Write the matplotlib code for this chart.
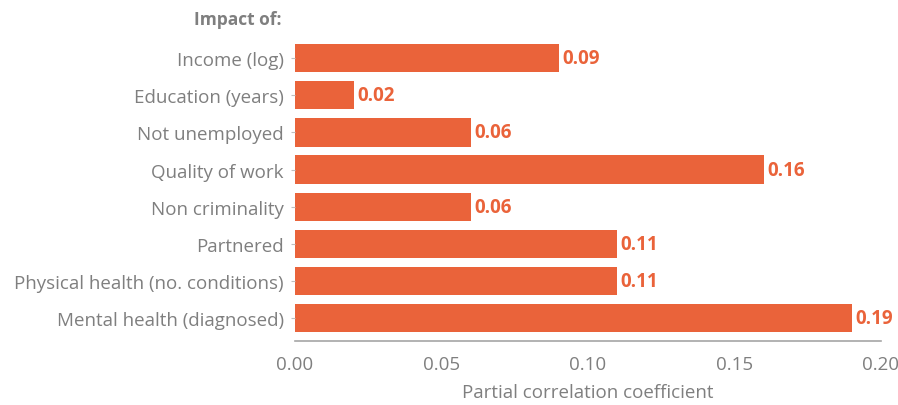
import matplotlib.pyplot as plt

plt.rcParams['font.family'] = ['Open Sans', 'DejaVu Sans']

categories = ['Income (log)', 'Education (years)', 'Not unemployed', 'Quality of work',
              'Non criminality', 'Partnered', 'Physical health (no. conditions)',
              'Mental health (diagnosed)']
values = [0.09, 0.02, 0.06, 0.16, 0.06, 0.11, 0.11, 0.19]
labels = ['0.09', '0.02', '0.06', '0.16', '0.06', '0.11', '0.11', '0.19']
xticks = [0.00, 0.05, 0.10, 0.15, 0.20]

orange = '#EA633A'
grey = '#7f7f7f'
fs = 13.5

fig = plt.figure(figsize=(8.98, 4.06), dpi=100)
ax = fig.add_axes([0.3285, 0.1576, 0.6525, 0.7513])

pos = list(range(len(categories)))
ax.barh(pos, values, height=0.76, color=orange)
for p, v, lab in zip(pos, values, labels):
    ax.text(v + 0.0012, p, lab, va='center', ha='left', color=orange,
            fontsize=fs, fontweight='bold')

ax.set_ylim(7.62, -0.6)
ax.set_xlim(0, 0.2)
ax.set_yticks(pos)
ax.set_yticklabels(categories)
ax.set_xticks(xticks)
ax.set_xticklabels([f'{t:.2f}' for t in xticks])

ax.tick_params(axis='y', length=3, color='#bfbfbf', labelcolor=grey, labelsize=fs, pad=5)
ax.tick_params(axis='x', length=0, labelcolor=grey, labelsize=fs, pad=10)

for s in ['top', 'right', 'left']:
    ax.spines[s].set_visible(False)
ax.spines['bottom'].set_color('#a6a6a6')
ax.spines['bottom'].set_linewidth(1.2)

ax.set_xlabel('Partial correlation coefficient', color=grey, fontsize=fs, labelpad=7)

ax.text(-0.0046, -1.05, 'Impact of:', ha='right', va='center', color=grey,
        fontsize=12.5, fontweight='bold', clip_on=False)

fig.savefig('out.png', dpi=100)
